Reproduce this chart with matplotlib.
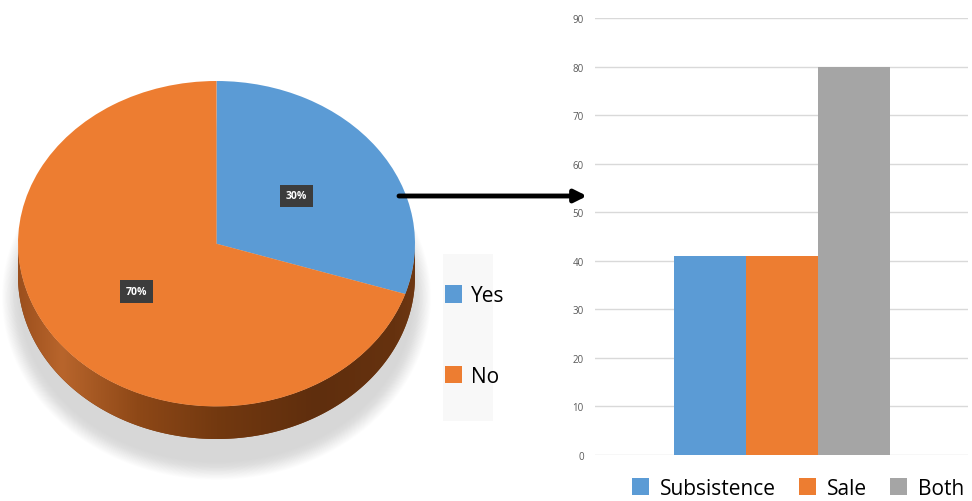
import numpy as np
import matplotlib
matplotlib.use("Agg")
import matplotlib.pyplot as plt
from matplotlib.patches import Polygon, Ellipse, Rectangle

plt.rcParams['font.family'] = ['Open Sans', 'DejaVu Sans']

# pie data
pie_labels = ['Yes', 'No']
pie_shares = [30, 70]
pie_colors = ['#5b9bd5', '#ed7d31']

# bar data
bar_labels = ['Subsistence', 'Sale', 'Both']
bar_values = [41, 41, 80]
bar_colors = ['#5b9bd5', '#ed7d31', '#a5a5a5']
yticks = [0, 10, 20, 30, 40, 50, 60, 70, 80, 90]

W, H = 972, 502
fig = plt.figure(figsize=(W / 100, H / 100), dpi=100)
fig.patch.set_facecolor('white')

def fx(px):
  return px / W

def fy(py):
  return (H - py) / H

# ---- pie (flattened, with a fake 3d rim) ----
t = 0.2  # rim thickness in data units
ax_pie = fig.add_axes([fx(18), fy(440), fx(397), 358 / H])

# soft shadow
n = 24
for i in range(n):
  f = i / (n - 1)
  ax_pie.add_patch(Ellipse((0, -0.33), 2 * (1.08 - 0.09 * f), 2 * (1.12 - 0.11 * f),
                           facecolor='#a0a0a0', edgecolor='none', alpha=0.016,
                           zorder=0.2, clip_on=False))

th = np.linspace(np.pi, 2 * np.pi, 200)
top_edge = np.column_stack([np.cos(th), np.sin(th)])
bot_edge = np.column_stack([np.cos(th[::-1]), np.sin(th[::-1]) - t])
rim = Polygon(np.vstack([top_edge, bot_edge]), closed=True, facecolor='#7a3d13',
              edgecolor='none', zorder=0.5)
ax_pie.add_patch(rim)

stops_x = [-1.0, -0.78, -0.4, 0.0, 0.5, 0.9, 1.0]
stops_c = ['#9c4f1d', '#b8652c', '#8e4817', '#733910', '#5f2e0d', '#66320f', '#6e3712']
rgb = np.array([matplotlib.colors.to_rgb(c) for c in stops_c])
gx = np.linspace(-1, 1, 400)
grad = np.stack([np.interp(gx, stops_x, rgb[:, k]) for k in range(3)], axis=-1)[None, :, :]
im = ax_pie.imshow(grad, extent=(-1, 1, -1 - t, 0), aspect='auto', zorder=0.6,
                   interpolation='bilinear')
im.set_clip_path(rim)

wedges, _, autotexts = ax_pie.pie(pie_shares, colors=pie_colors, startangle=90,
                                  counterclock=False, autopct='%d%%', pctdistance=0.5,
                                  wedgeprops=dict(linewidth=0))
for txt in autotexts:
  txt.set_color('white')
  txt.set_fontsize(7.5)
  txt.set_fontweight('bold')
  txt.set_bbox(dict(boxstyle='square,pad=0.55', facecolor='#3c3c3c', edgecolor='none'))
ax_pie.set_aspect('auto')
ax_pie.set_xlim(-1, 1)
ax_pie.set_ylim(-1 - t, 1)
ax_pie.axis('off')

# legend backdrop
fig.patches.append(Rectangle((fx(443), fy(422)), fx(50), 167 / H, transform=fig.transFigure,
                             facecolor='#f8f8f8', edgecolor='none', zorder=0))
fig.legend(wedges, pie_labels, loc='upper left', bbox_to_anchor=(fx(445), fy(286)),
           frameon=False, fontsize=15, handlelength=0.82, handleheight=0.95,
           handletextpad=0.45, labelspacing=2.85, borderpad=0, borderaxespad=0)

# arrow
ax_pie.annotate('', xy=(587, H - 197), xytext=(399, H - 197), xycoords='figure pixels',
                textcoords='figure pixels', annotation_clip=False,
                arrowprops=dict(arrowstyle='-|>', lw=3.5, color='black', mutation_scale=18,
                                shrinkA=0, shrinkB=0))

# ---- bar chart ----
ax = fig.add_axes([fx(595), fy(456), fx(373), 437 / H])
xs = np.arange(len(bar_values))
bars = ax.bar(xs, bar_values, width=1.0, color=bar_colors, label=bar_labels, zorder=2)
ax.set_ylim(0, 90)
ax.set_xlim(-1.597, -1.597 + 373 / 72)
ax.set_yticks(yticks)
ax.set_xticks([])
ax.yaxis.grid(True, color='#d9d9d9', linewidth=1)
ax.set_axisbelow(True)
for s in ax.spines.values():
  s.set_visible(False)
ax.tick_params(axis='y', length=0, pad=8, labelsize=7, labelcolor='#595959')

fig.legend(bars, bar_labels, loc='lower left', bbox_to_anchor=(fx(632), fy(500)),
           ncol=3, frameon=False, fontsize=15, handlelength=0.8, handleheight=0.9,
           handletextpad=0.55, columnspacing=1.1, borderpad=0, borderaxespad=0)

fig.savefig('out.png', dpi=100)
